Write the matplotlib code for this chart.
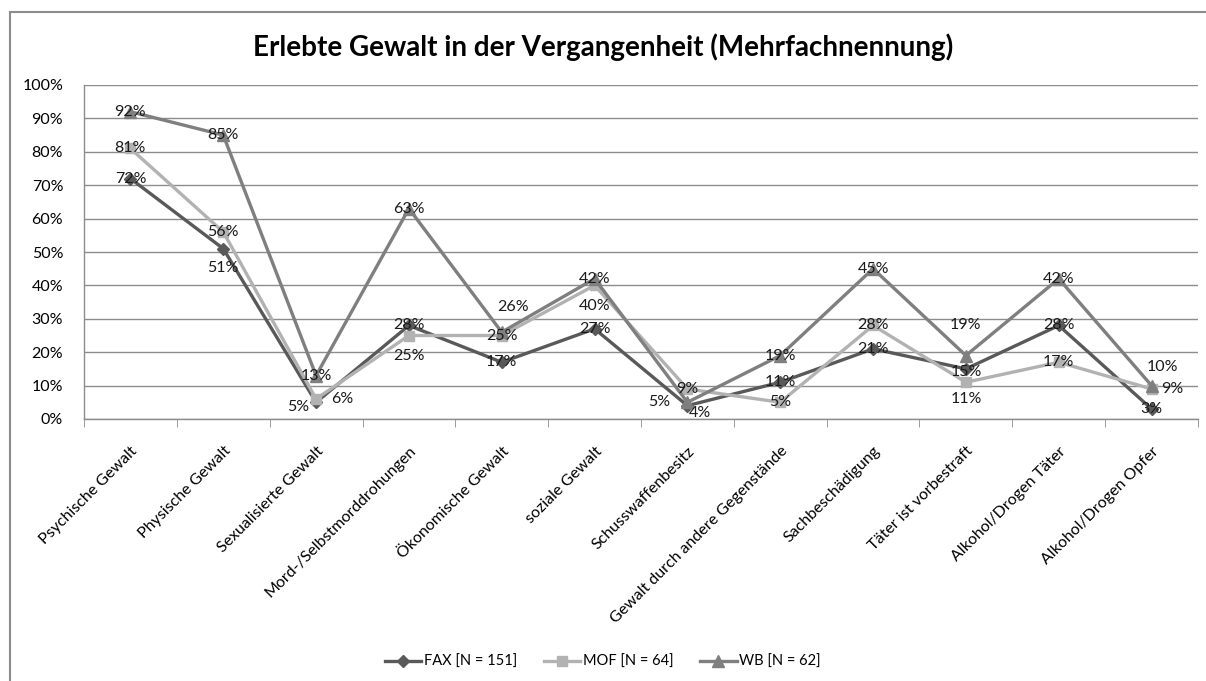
import matplotlib
matplotlib.use("Agg")
import matplotlib.pyplot as plt
import numpy as np
from matplotlib.lines import Line2D
from matplotlib.patches import Rectangle

plt.rcParams['font.family'] = ['Lato', 'DejaVu Sans']

# categories and values (percent)
categories = ['Psychische Gewalt', 'Physische Gewalt', 'Sexualisierte Gewalt',
              'Mord-/Selbstmorddrohungen', 'Ökonomische Gewalt', 'soziale Gewalt',
              'Schusswaffenbesitz', 'Gewalt durch andere Gegenstände',
              'Sachbeschädigung', 'Täter ist vorbestraft', 'Alkohol/Drogen Täter',
              'Alkohol/Drogen Opfer']
fax = [72, 51, 5, 28, 17, 27, 4, 11, 21, 15, 28, 3]
mof = [81, 56, 6, 25, 25, 40, 9, 5, 28, 11, 17, 9]
wb = [92, 85, 13, 63, 26, 42, 5, 19, 45, 19, 42, 10]
series_names = ['FAX [N = 151]', 'MOF [N = 64]', 'WB [N = 62]']
y_ticks = [0, 10, 20, 30, 40, 50, 60, 70, 80, 90, 100]

# label offsets in pixels (dx, dy) per point
fax_off = [(0, 0), (0, -19), (-18, -5), (0, 0), (0, 0), (0, 0),
           (13, -7), (0, 0), (0, 0), (0, -3), (0, 0), (0, 0)]
mof_off = [(0, 0), (0, 0), (26, 0), (0, -20), (0, 0), (0, -21),
           (0, 0), (0, 0), (0, 0), (0, -17), (0, 0), (21, 0)]
wb_off = [(0, 0), (0, 0), (0, 0), (0, 0), (11, 25), (0, 0),
          (-28, 0), (0, 0), (0, 0), (0, 31), (0, 0), (11, 19)]

W, H = 1206, 681
fig = plt.figure(figsize=(W / 100, H / 100), dpi=100)
fig.patch.set_facecolor('white')

# outer chart frame
fig.patches.append(Rectangle((10 / W, -0.1), 1.2, 1 - 12 / H + 0.1,
                             transform=fig.transFigure, fill=False,
                             edgecolor='#8c8c8c', linewidth=1.5))

ax = fig.add_axes([84 / W, 1 - 419 / H, (1198 - 84) / W, (419 - 85) / H])

x = np.arange(len(categories))
styles = [
    (fax, fax_off, '#595959', 'D', 6),
    (mof, mof_off, '#b2b2b2', 's', 7),
    (wb, wb_off, '#7f7f7f', '^', 8),
]
for vals, offs, col, mk, ms in styles:
    ax.plot(x, vals, color=col, linewidth=2.4, marker=mk, markersize=ms,
            markeredgecolor=col, markerfacecolor=col, zorder=3)
for vals, offs, col, mk, ms in styles:
    for xi, v, (dx, dy) in zip(x, vals, offs):
        ax.annotate(f'{v}%', (xi, v), xytext=(dx, dy), textcoords='offset pixels',
                    ha='center', va='center', fontsize=11.5, color='#1a1a1a', zorder=4)

ax.set_xlim(-0.5, len(categories) - 0.5)
ax.set_ylim(0, 100)
ax.set_yticks(y_ticks)
ax.set_yticklabels([f'{t}%' for t in y_ticks], fontsize=11.5)
ax.yaxis.grid(True, color='#8c8c8c', linewidth=1)
ax.set_axisbelow(True)
ax.tick_params(axis='y', length=0, pad=15)

ax.set_xticks(x)
ax.set_xticklabels(categories, rotation=45, ha='right', rotation_mode='anchor',
                   fontsize=11.5)
ax.tick_params(axis='x', which='major', length=0, pad=18)
ax.set_xticks(np.arange(-0.5, len(categories) + 0.5, 1), minor=True)
ax.tick_params(axis='x', which='minor', length=6, color='#8c8c8c')

for side in ['top', 'right']:
    ax.spines[side].set_visible(False)
ax.spines['left'].set_color('#8c8c8c')
ax.spines['bottom'].set_color('#8c8c8c')
ax.spines['left'].set_linewidth(1)
ax.spines['bottom'].set_linewidth(1)

fig.text(0.5, 1 - 47 / H, 'Erlebte Gewalt in der Vergangenheit (Mehrfachnennung)',
         ha='center', va='center', fontsize=20, fontweight='bold')

handles = [Line2D([], [], color=c, marker=m, markersize=ms, linewidth=2.4)
           for _, _, c, m, ms in styles]
fig.legend(handles, series_names, loc='center', bbox_to_anchor=(0.5, 1 - 662 / H),
           ncol=3, frameon=False, fontsize=10.5, handlelength=2.5, columnspacing=1.8,
           handletextpad=0.2)

fig.savefig('out.png', dpi=100)
